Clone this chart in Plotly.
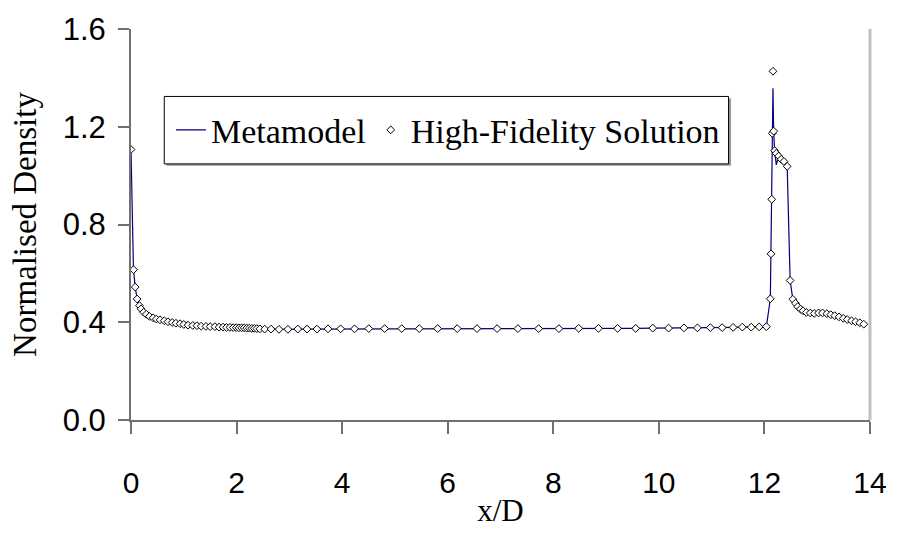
import plotly.graph_objects as go

# High-fidelity CFD solution: normalised density along the axis (x/D)
hf_x = [0.0, 0.047, 0.08, 0.116, 0.16, 0.19, 0.24, 0.29, 0.35, 0.42, 0.48, 0.55,
        0.63, 0.70, 0.78, 0.85, 0.93, 1.00, 1.08, 1.17, 1.25, 1.33, 1.42, 1.50,
        1.59, 1.669, 1.744, 1.810, 1.875, 1.937, 1.994, 2.044, 2.095, 2.144,
        2.192, 2.241, 2.288, 2.335, 2.384, 2.442, 2.532, 2.654, 2.804, 2.973,
        3.160, 3.335, 3.522, 3.732, 3.972, 4.235, 4.505, 4.805, 5.129, 5.461,
        5.810, 6.180, 6.555, 6.935, 7.329, 7.723, 8.106, 8.481, 8.856, 9.218,
        9.561, 9.884, 10.184, 10.475, 10.731, 10.975, 11.200, 11.407, 11.581,
        11.750, 11.900, 12.037, 12.112, 12.125, 12.138, 12.149, 12.162, 12.175,
        12.194, 12.224, 12.269, 12.318, 12.369, 12.431, 12.487, 12.538, 12.588,
        12.632, 12.682, 12.732, 12.794, 12.869, 12.944, 13.025, 13.100, 13.182,
        13.257, 13.332, 13.413, 13.494, 13.569, 13.651, 13.726, 13.807, 13.882]
hf_y = [1.107, 0.615, 0.544, 0.495, 0.468, 0.455, 0.441, 0.433, 0.424, 0.418,
        0.413, 0.410, 0.406, 0.402, 0.399, 0.396, 0.394, 0.391, 0.388, 0.387,
        0.386, 0.384, 0.383, 0.382, 0.382, 0.380, 0.380, 0.379, 0.379, 0.378,
        0.378, 0.377, 0.377, 0.377, 0.376, 0.376, 0.375, 0.375, 0.374, 0.373,
        0.372, 0.372, 0.371, 0.371, 0.372, 0.372, 0.372, 0.373, 0.373, 0.373,
        0.374, 0.374, 0.374, 0.374, 0.374, 0.374, 0.374, 0.374, 0.374, 0.374,
        0.374, 0.375, 0.375, 0.375, 0.375, 0.376, 0.376, 0.377, 0.377, 0.378,
        0.378, 0.379, 0.380, 0.380, 0.381, 0.382, 0.496, 0.680, 0.903, 1.173,
        1.427, 1.182, 1.102, 1.091, 1.080, 1.067, 1.058, 1.038, 0.571, 0.494,
        0.478, 0.464, 0.454, 0.447, 0.440, 0.438, 0.436, 0.438, 0.438, 0.435,
        0.431, 0.427, 0.422, 0.416, 0.411, 0.406, 0.402, 0.398, 0.392]

# Metamodel prediction (differs from the CFD data only around the shock peak)
mm_x = hf_x[:80] + [12.162, 12.175, 12.194, 12.224] + hf_x[84:]
mm_y = hf_y[:80] + [1.358, 1.180, 1.100, 1.044] + hf_y[84:]

y_ticks = [0.0, 0.4, 0.8, 1.2, 1.6]
y_tick_text = ["0.0", "0.4", "0.8", "1.2", "1.6"]
x_ticks = [0, 2, 4, 6, 8, 10, 12, 14]

serif = "Liberation Serif, Times New Roman, serif"
sans = "Liberation Sans, Arial, sans-serif"

fig = go.Figure()
fig.add_trace(go.Scatter(
    x=mm_x, y=mm_y, mode="lines", name="Metamodel",
    line=dict(color="#000080", width=1.2),
))
fig.add_trace(go.Scatter(
    x=hf_x, y=hf_y, mode="markers", name="High-Fidelity Solution",
    marker=dict(symbol="diamond", size=6, color="white",
                line=dict(color="black", width=1)),
))

# legend frame with a soft drop shadow
fig.add_shape(type="rect", xref="paper", yref="paper",
              x0=0.048, x1=0.812, y0=0.650, y1=0.822,
              line=dict(width=0), fillcolor="#9a9a9a", layer="above")
fig.add_shape(type="rect", xref="paper", yref="paper",
              x0=0.045, x1=0.8086, y0=0.655, y1=0.8275,
              line=dict(color="black", width=1), fillcolor="white", layer="above")
# right border of the plot area
fig.add_shape(type="line", xref="paper", yref="paper",
              x0=1.0, x1=1.0, y0=0.0, y1=1.0,
              line=dict(color="#c0c0c0", width=3), layer="below")

fig.update_layout(
    width=899, height=534,
    margin=dict(l=131, r=21, t=23, b=111),
    paper_bgcolor="white", plot_bgcolor="white",
    showlegend=True,
    legend=dict(
        orientation="h", x=0.054, xanchor="left", y=0.741, yanchor="middle",
        bgcolor="rgba(0,0,0,0)", borderwidth=0,
        font=dict(family=serif, size=34, color="black"),
    ),
    xaxis=dict(
        range=[0, 14], tickvals=x_ticks, ticks="outside", ticklen=12,
        tickcolor="#707070", tickwidth=1.5,
        showline=True, linecolor="#707070", linewidth=2,
        showgrid=False, zeroline=False,
        tickfont=dict(family=sans, size=30, color="black"),
        ticklabelstandoff=23,
        title=dict(text="x/D", font=dict(family=serif, size=31, color="black"),
                   standoff=1),
    ),
    yaxis=dict(
        range=[0, 1.6], tickvals=y_ticks, ticktext=y_tick_text,
        ticks="outside", ticklen=11, tickcolor="#707070", tickwidth=1.5,
        showline=True, linecolor="#707070", linewidth=2,
        showgrid=False, zeroline=False,
        tickfont=dict(family=sans, size=31, color="black"),
        ticklabelstandoff=6,
        title=dict(text="Normalised Density",
                   font=dict(family=serif, size=33, color="black"),
                   standoff=16),
    ),
)

fig.write_html("out.html")
